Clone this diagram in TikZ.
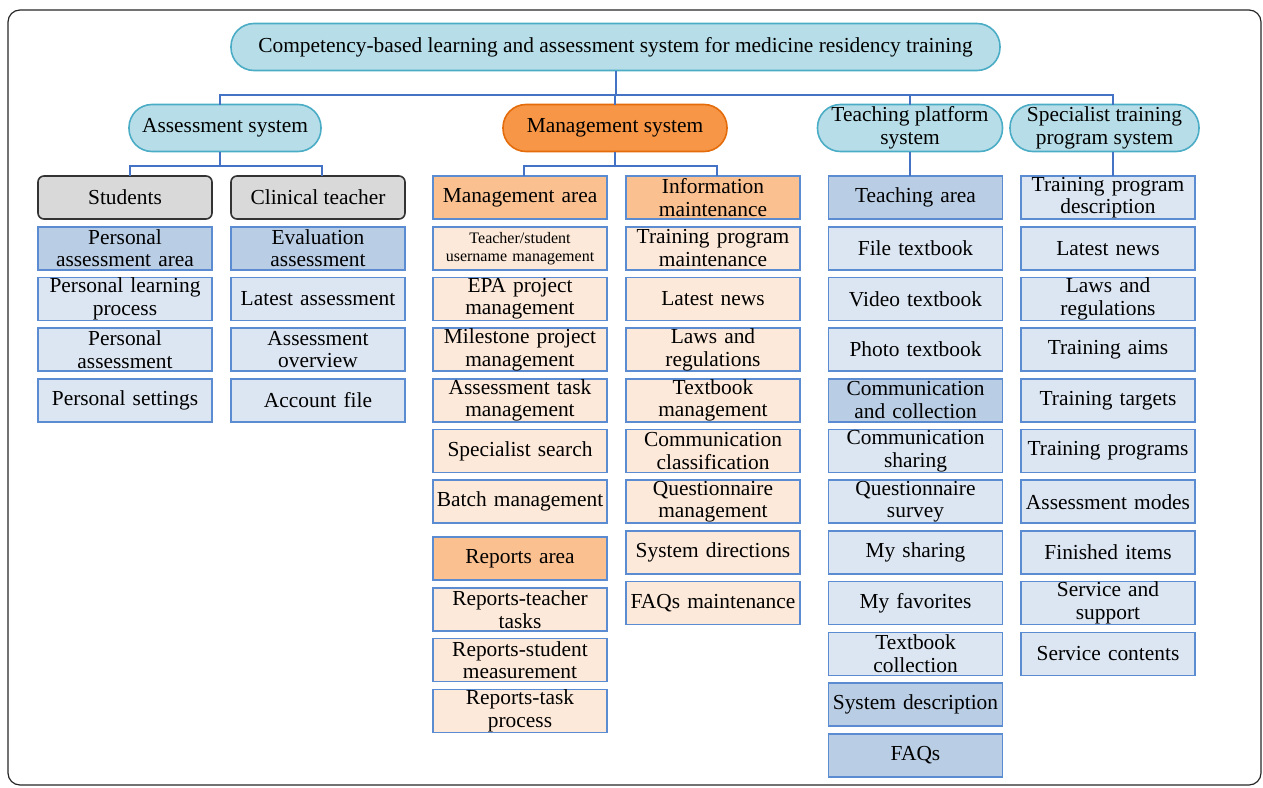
\documentclass[tikz,border=0pt]{standalone}
\usepackage{fontspec}
\setmainfont{Liberation Serif}
\usepackage{tikz}
\usetikzlibrary{positioning,calc}

\definecolor{pillfill}{HTML}{B7DEE8}
\definecolor{pillline}{HTML}{4BACC6}
\definecolor{mgmtfill}{HTML}{F79646}
\definecolor{mgmtline}{HTML}{E46C0A}
\definecolor{rolefill}{HTML}{D9D9D9}
\definecolor{itemline}{HTML}{5B8BD0}
\definecolor{darkblue}{HTML}{B9CDE5}
\definecolor{lightblue}{HTML}{DCE6F2}
\definecolor{areafill}{HTML}{FAC090}
\definecolor{lightorange}{HTML}{FDE9D9}
\definecolor{linkcol}{HTML}{4472C4}

\begin{document}
\begin{tikzpicture}[x=0.5pt, y=-0.5pt,
        font=\fontsize{10.7}{11.3}\selectfont,
        node distance=3.85pt,
        pill/.style={draw=pillline, fill=pillfill, line width=0.8pt, rounded corners=11.5pt, minimum height=23.5pt, align=center, inner xsep=1pt, inner ysep=0pt, outer sep=0pt},
        role/.style={draw=black!80, fill=rolefill, line width=0.8pt, rounded corners=3pt, minimum width=87pt, minimum height=21.5pt, align=center, inner sep=1pt, outer sep=0pt},
        item/.style={draw=itemline, line width=0.8pt, minimum width=87pt, minimum height=21.5pt, text width=85pt, align=center, inner xsep=1pt, inner ysep=0pt, outer sep=0pt},
        darkitem/.style={item, fill=darkblue},
        blueitem/.style={item, fill=lightblue},
        area/.style={item, fill=areafill},
        orangeitem/.style={item, fill=lightorange},
        link/.style={draw=linkcol, line width=1pt}
    ]
        \useasboundingbox (0,0) rectangle (1263,787);
        \draw[black!85, line width=0.6pt, rounded corners=6pt] (8,10) rectangle (1261,785);

        % top levels
        \node [pill, minimum width=384.5pt] (root) at (615.5,47) {Competency-based learning and assessment system for medicine residency training};
        \node [pill, minimum width=96pt] (assess) at (225,128) {Assessment system};
        \node [pill, minimum width=112pt, draw=mgmtline, fill=mgmtfill] (mgmt) at (615,128) {Management system};
        \node [pill, minimum width=92.5pt] (teach) at (910,128) {Teaching platform\\system};
        \node [pill, minimum width=94.5pt] (spec) at (1104.5,128) {Specialist training\\program system};

        % assessment system
        \node [role] (students) at (125,197.5) {Students};
        \node [darkitem, below=of students] (pa) {Personal\\assessment area};
        \node [blueitem, below=of pa] (plp) {Personal learning\\process};
        \node [blueitem, below=of plp] (pas) {Personal\\assessment};
        \node [blueitem, below=of pas] (ps) {Personal settings};

        \node [role] (clinical) at (318,197.5) {Clinical teacher};
        \node [darkitem, below=of clinical] (ea) {Evaluation\\assessment};
        \node [blueitem, below=of ea] (la) {Latest assessment};
        \node [blueitem, below=of la] (ao) {Assessment\\overview};
        \node [blueitem, below=of ao] (af) {Account file};

        % management system
        \node [area] (marea) at (520,197.5) {Management area};
        \node [orangeitem, below=of marea, font=\fontsize{8}{9}\selectfont] (user) {Teacher/student\\username management};
        \node [orangeitem, below=of user] (epa) {EPA project\\management};
        \node [orangeitem, below=of epa] (mile) {Milestone project\\management};
        \node [orangeitem, below=of mile] (task) {Assessment task\\management};
        \node [orangeitem, below=of task] (search) {Specialist search};
        \node [orangeitem, below=of search] (batch) {Batch management};
        \node [area, below=7pt of batch] (rarea) {Reports area};
        \node [orangeitem, below=of rarea] (rtt) {Reports-teacher\\tasks};
        \node [orangeitem, below=of rtt] (rsm) {Reports-student\\measurement};
        \node [orangeitem, below=of rsm] (rtp) {Reports-task\\process};

        \node [area] (info) at (713,197.5) {Information\\maintenance};
        \node [orangeitem, below=of info] (tpm) {Training program\\maintenance};
        \node [orangeitem, below=of tpm] (mnews) {Latest news};
        \node [orangeitem, below=of mnews] (mlaws) {Laws and\\regulations};
        \node [orangeitem, below=of mlaws] (tbm) {Textbook\\management};
        \node [orangeitem, below=of tbm] (comc) {Communication\\classification};
        \node [orangeitem, below=of comc] (qm) {Questionnaire\\management};
        \node [orangeitem, below=of qm] (sysd) {System directions};
        \node [orangeitem, below=of sysd] (faqm) {FAQs maintenance};

        % teaching platform system
        \node [darkitem] (tarea) at (915.5,197.5) {Teaching area};
        \node [blueitem, below=of tarea] (file) {File textbook};
        \node [blueitem, below=of file] (video) {Video textbook};
        \node [blueitem, below=of video] (photo) {Photo textbook};
        \node [darkitem, below=of photo] (cac) {Communication\\and collection};
        \node [blueitem, below=of cac] (cs) {Communication\\sharing};
        \node [blueitem, below=of cs] (qs) {Questionnaire\\survey};
        \node [blueitem, below=of qs] (mys) {My sharing};
        \node [blueitem, below=of mys] (myf) {My favorites};
        \node [blueitem, below=of myf] (tbc) {Textbook\\collection};
        \node [darkitem, below=of tbc] (sdesc) {System description};
        \node [darkitem, below=of sdesc] (faqs) {FAQs};

        % specialist training program system
        \node [blueitem] (tpd) at (1108,197.5) {Training program\\description};
        \node [blueitem, below=of tpd] (snews) {Latest news};
        \node [blueitem, below=of snews] (slaws) {Laws and\\regulations};
        \node [blueitem, below=of slaws] (aims) {Training aims};
        \node [blueitem, below=of aims] (targets) {Training targets};
        \node [blueitem, below=of targets] (progs) {Training programs};
        \node [blueitem, below=of progs] (modes) {Assessment modes};
        \node [blueitem, below=of modes] (fin) {Finished items};
        \node [blueitem, below=of fin] (sas) {Service and\\support};
        \node [blueitem, below=of sas] (scont) {Service contents};

        % connectors
        \coordinate (bus) at (615.5,95);
        \coordinate (abus) at (220,166);
        \coordinate (mbus) at (615,166);
        \draw [link] (root.south) -- (bus);
        \draw [link] ([xshift=-2.5pt]assess.north) |- (bus);
        \draw [link] (mgmt.north) |- (bus);
        \draw [link] (teach.north) |- (bus);
        \draw [link] ([xshift=4pt]spec.north) |- (bus);
        \draw [link] ([xshift=-2.5pt]assess.south) -- (abus);
        \draw [link] ([xshift=2.5pt]students.north) |- (abus);
        \draw [link] ([xshift=2pt]clinical.north) |- (abus);
        \draw [link] (mgmt.south) -- (mbus);
        \draw [link] ([xshift=2pt]marea.north) |- (mbus);
        \draw [link] ([xshift=2pt]info.north) |- (mbus);
        \draw [link] (teach.south) -- (teach.south |- tarea.north);
        \draw [link] ([xshift=4pt]spec.south) -- ([xshift=4pt]spec.south |- tpd.north);
    \end{tikzpicture}
\end{document}
